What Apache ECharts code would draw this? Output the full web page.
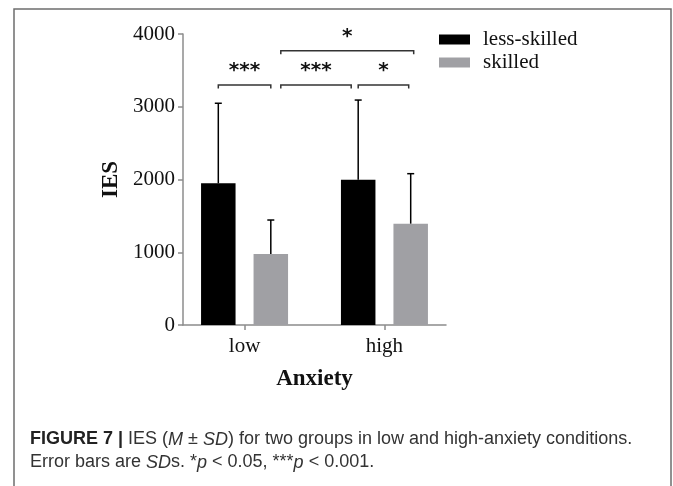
<!DOCTYPE html>
<html>
<head>
<meta charset="utf-8">
<script src="https://cdn.jsdelivr.net/npm/echarts@6/dist/echarts.min.js"></script>
<style>
html,body{margin:0;padding:0;background:#fff;}
#c{width:673px;height:486px;}
</style>
</head>
<body>
<div id="c"></div>
<script>
// ---- data ----
const categories = ['low', 'high'];
const seriesNames = ['less-skilled', 'skilled'];
const lessSkilledMean = [1948, 1997];
const lessSkilledSD = [1100, 1095];
const skilledMean = [976, 1393];
const skilledSD = [467, 687];
const yTicks = [0, 1000, 2000, 3000, 4000];
// significance comparisons: [groupIndex, seriesIndex] pairs, bracket level (y value), label
const comparisons = [
  { a: [0, 0], b: [0, 1], level: 3300, label: '***' },
  { a: [0, 1], b: [1, 0], level: 3300, label: '***' },
  { a: [1, 0], b: [1, 1], level: 3300, label: '*' },
  { a: [0, 1], b: [1, 1], level: 3770, label: '*' }
];

// ---- style constants ----
const BAR_W = 34.5;
const BAR_GAP = 18;
const SERIF = '"Liberation Serif", "Times New Roman", serif';
const SANS = '"Liberation Sans", Arial, sans-serif';
const colors = ['#000000', '#a0a0a4'];
// pixel insets for bracket ends (to keep adjacent brackets apart)
const bracketInsets = [[0, 0], [10, 7], [0, 2], [10, -3]];

const chart = echarts.init(document.getElementById('c'), null, { renderer: 'canvas' });

function barCenterPx(api, g, s) {
  const cx = api.coord([g, 0])[0];
  const off = (BAR_W + BAR_GAP) / 2;
  return cx + (s === 0 ? -off : off);
}

const means = [lessSkilledMean, skilledMean];
const sds = [lessSkilledSD, skilledSD];

const errorData = [];
means.forEach((m, s) => m.forEach((v, g) => errorData.push([g, v, v + sds[s][g], s])));

const option = {
  animation: false,
  backgroundColor: '#fff',
  grid: { left: 183, right: 227, top: 34, bottom: 161, containLabel: false },
  legend: {
    orient: 'vertical',
    left: 434,
    top: 24,
    itemWidth: 31,
    itemHeight: 10,
    itemGap: 2,
    icon: 'rect',
    data: seriesNames,
    textStyle: { fontFamily: SERIF, fontSize: 21, color: '#111', lineHeight: 13, padding: [0, 0, 0, 8] }
  },
  xAxis: {
    type: 'value',
    min: -0.44,
    max: 1.44,
    name: 'Anxiety',
    nameLocation: 'middle',
    nameGap: 43,
    nameTextStyle: { fontFamily: SERIF, fontSize: 23, fontWeight: 'bold', color: '#111' },
    axisLine: { show: true, onZero: false, lineStyle: { color: '#8c8c8c', width: 1.5 } },
    axisTick: { show: true, customValues: [0, 1], length: 5, lineStyle: { color: '#8c8c8c', width: 1.5 } },
    axisLabel: {
      customValues: [0, 1],
      formatter: v => categories[Math.round(v)],
      fontFamily: SERIF, fontSize: 21, color: '#111', margin: 11
    },
    splitLine: { show: false }
  },
  yAxis: {
    type: 'value',
    min: 0,
    max: 4000,
    interval: 1000,
    name: 'IES',
    nameLocation: 'middle',
    nameGap: 60,
    nameTextStyle: { fontFamily: SERIF, fontSize: 23, fontWeight: 'bold', color: '#111' },
    axisLine: { show: true, onZero: false, lineStyle: { color: '#8c8c8c', width: 1.5 } },
    axisTick: { show: true, length: 5, lineStyle: { color: '#8c8c8c', width: 1.5 } },
    axisLabel: { fontFamily: SERIF, fontSize: 21, color: '#111', margin: 8,
      formatter: v => yTicks.includes(v) ? String(v) : '' },
    splitLine: { show: false }
  },
  series: [
    {
      name: seriesNames[0], type: 'bar', barWidth: BAR_W, barGap: (BAR_GAP / BAR_W * 100) + '%',
      itemStyle: { color: colors[0] },
      data: lessSkilledMean.map((v, i) => [i, v]), z: 2
    },
    {
      name: seriesNames[1], type: 'bar', barWidth: BAR_W, barGap: (BAR_GAP / BAR_W * 100) + '%',
      itemStyle: { color: colors[1] },
      data: skilledMean.map((v, i) => [i, v]), z: 2
    },
    {
      type: 'custom', name: 'error', z: 3, silent: true,
      data: errorData,
      encode: { x: 0, y: [1, 2] },
      renderItem: function (params, api) {
        const g = api.value(0), s = api.value(3);
        const x = barCenterPx(api, g, s);
        const y0 = api.coord([g, api.value(1)])[1];
        const y1 = api.coord([g, api.value(2)])[1];
        const cap = 3.5;
        const st = { stroke: '#000', lineWidth: 1.5 };
        return { type: 'group', children: [
          { type: 'line', shape: { x1: x, y1: y0, x2: x, y2: y1 }, style: st },
          { type: 'line', shape: { x1: x - cap, y1: y1, x2: x + cap, y2: y1 }, style: st }
        ]};
      }
    },
    {
      type: 'custom', name: 'sig', z: 4, silent: true,
      data: comparisons.map((c, i) => [c.a[0], c.level, i]),
      encode: { x: 0, y: 1 },
      renderItem: function (params, api) {
        const i = api.value(2);
        const c = comparisons[i];
        const ins = bracketInsets[i];
        const xa = barCenterPx(api, c.a[0], c.a[1]) + ins[0];
        const xb = barCenterPx(api, c.b[0], c.b[1]) - ins[1];
        const y = api.coord([0, c.level])[1];
        const drop = 3.5;
        const st = { stroke: '#333', lineWidth: 1.5, fill: null };
        return { type: 'group', children: [
          { type: 'polyline', shape: { points: [[xa, y + drop], [xa, y], [xb, y], [xb, y + drop]] }, style: st },
          { type: 'text', x: (xa + xb) / 2, y: y - 14, style: {
              text: c.label, fill: '#111', font: 'bold 20px "DejaVu Sans", sans-serif',
              align: 'center', verticalAlign: 'middle' } }
        ]};
      }
    }
  ],
  graphic: [
    {
      type: 'rect', silent: true, z: 0,
      shape: { x: 14, y: 9, width: 657, height: 500 },
      style: { fill: null, stroke: '#6e6e6e', lineWidth: 1.5 }
    },
    {
      type: 'text', left: 30, top: 428, silent: true,
      style: {
        text: '{b|FIGURE 7 |} IES ({i|M} ± {i|SD}) for two groups in low and high-anxiety conditions.\nError bars are {i|SD}s. *{i|p} < 0.05, ***{i|p} < 0.001.',
        font: '18px ' + SANS,
        fill: '#333',
        lineHeight: 23,
        rich: {
          b: { fontWeight: 'bold', fontSize: 18, fontFamily: SANS, fill: '#222', lineHeight: 23 },
          i: { fontStyle: 'italic', fontSize: 18, fontFamily: SANS, fill: '#333', lineHeight: 23 }
        }
      }
    }
  ]
};
chart.setOption(option);
</script>
</body>
</html>
